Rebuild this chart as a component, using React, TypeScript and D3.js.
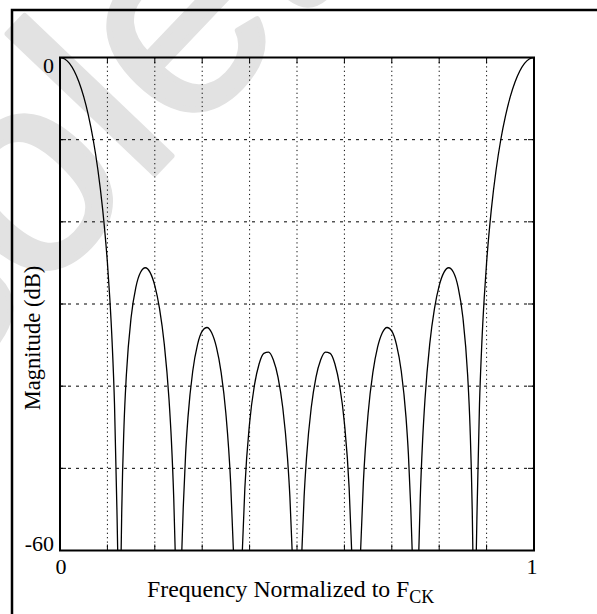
import React from 'react';
import * as d3 from 'd3';

// Normalized frequency (fraction of F_CK) and magnitude (dB)
const freqs = [
  0, 0.01, 0.02, 0.03, 0.04, 0.05, 0.06, 0.07, 0.08, 0.09, 0.1, 0.105, 0.11, 0.115, 0.12, 0.1217,
  0.125,
  0.129, 0.13, 0.135, 0.14, 0.15, 0.16, 0.17, 0.18, 0.19, 0.2, 0.21, 0.22, 0.23, 0.235, 0.24, 0.243,
  0.25,
  0.257, 0.26, 0.265, 0.27, 0.28, 0.29, 0.3, 0.31, 0.32, 0.33, 0.34, 0.35, 0.36, 0.3658,
  0.375,
  0.3847, 0.39, 0.4, 0.41, 0.42, 0.43, 0.44, 0.45, 0.46, 0.47, 0.48, 0.485, 0.4897,
  0.5,
  0.5103, 0.515, 0.52, 0.53, 0.54, 0.55, 0.56, 0.57, 0.58, 0.59, 0.6, 0.61, 0.6153,
  0.625,
  0.6342, 0.64, 0.65, 0.66, 0.67, 0.68, 0.69, 0.7, 0.71, 0.72, 0.73, 0.735, 0.74, 0.743,
  0.75,
  0.757, 0.76, 0.765, 0.77, 0.78, 0.79, 0.8, 0.81, 0.82, 0.83, 0.84, 0.85, 0.86, 0.865, 0.87, 0.871,
  0.875,
  0.8783, 0.88, 0.885, 0.89, 0.895, 0.9, 0.91, 0.92, 0.93, 0.94, 0.95, 0.96, 0.97, 0.98, 0.99, 1,
];

const magnitudeDb = [
  0, -0.18, -0.72, -1.65, -2.99, -4.77, -7.07, -9.98, -13.69, -18.48, -24.95, -29.23, -34.68, -42.23, -54.8, -60,
  -80,
  -60, -56.16, -44.87, -38.65, -31.64, -27.97, -26.13, -25.59, -26.15, -27.76, -30.56, -34.89, -41.62, -46.6, -53.71, -60,
  -80,
  -60, -54.8, -48.25, -43.8, -38.18, -34.97, -33.31, -32.86, -33.5, -35.26, -38.36, -43.35, -51.74, -60,
  -80,
  -60, -52.4, -44.48, -39.95, -37.3, -36.01, -35.85, -36.78, -38.92, -42.63, -48.77, -53.47, -60,
  -80,
  -60, -53.47, -48.77, -42.63, -38.92, -36.78, -35.85, -36.01, -37.3, -39.95, -44.48, -52.4, -60,
  -80,
  -60, -51.74, -43.35, -38.36, -35.26, -33.5, -32.86, -33.31, -34.97, -38.18, -43.8, -48.25, -54.8, -60,
  -80,
  -60, -53.71, -46.6, -41.62, -34.89, -30.56, -27.76, -26.15, -25.59, -26.13, -27.97, -31.64, -38.65, -44.87, -56.16, -60,
  -80,
  -60, -54.8, -42.23, -34.68, -29.23, -24.95, -18.48, -13.69, -9.98, -7.07, -4.77, -2.99, -1.65, -0.72, -0.18, 0,
];

const xTickValues = [0, 1];
const xTickLabels = ['0', '1'];
const yTickValues = [0, -60];
const yTickLabels = ['0', '-60'];

const W = 597;
const H = 614;
const plot = { left: 60, top: 57.5, right: 534, bottom: 550.5 };
const serif = '"Liberation Serif", "Times New Roman", Times, serif';

export default function App() {
  const x = d3.scaleLinear().domain([0, 1]).range([plot.left, plot.right]);
  const y = d3.scaleLinear().domain([-60, 0]).range([plot.bottom, plot.top]);

  const points: [number, number][] = freqs.map((f, i) => [f, magnitudeDb[i]]);
  const line = d3
    .line<[number, number]>()
    .x((d) => x(d[0]))
    .y((d) => y(d[1]))
    .curve(d3.curveMonotoneX);

  const xGrid = x.ticks(10).filter((v) => v > 0 && v < 1);
  const yGrid = y.ticks(6).filter((v) => v > -60 && v < 0);
  const tick = 6;

  return (
    <svg
      width={W}
      height={H}
      style={{ position: 'absolute', left: 0, top: 0, background: '#fff' }}
    >
      <defs>
        <clipPath id="plotClip">
          <rect
            x={plot.left}
            y={plot.top}
            width={plot.right - plot.left}
            height={plot.bottom - plot.top}
          />
        </clipPath>
      </defs>

      {/* watermark */}
      <text
        transform="translate(-320,672) rotate(-46.4)"
        fontFamily='"Liberation Sans", Arial, sans-serif'
        fontSize={280}
        fill="#e2e2e2"
        stroke="#e2e2e2"
        strokeWidth={6}
        strokeLinejoin="round"
      >
        Obsolete
      </text>

      {/* outer border */}
      <rect x={12} y={10} width={700} height={700} fill="none" stroke="#000" strokeWidth={2.5} />

      {/* vertical grid */}
      {xGrid.map((v) => (
        <g key={'xg' + v}>
          <line
            x1={x(v)}
            x2={x(v)}
            y1={plot.top}
            y2={plot.bottom}
            stroke="#000"
            strokeWidth={1}
            strokeDasharray="1.2,3.2"
          />
          <line x1={x(v)} x2={x(v)} y1={plot.top} y2={plot.top + tick} stroke="#000" strokeWidth={1} />
          <line x1={x(v)} x2={x(v)} y1={plot.bottom} y2={plot.bottom - tick} stroke="#000" strokeWidth={1} />
        </g>
      ))}

      {/* horizontal grid */}
      {yGrid.map((v) => (
        <g key={'yg' + v}>
          <line
            x1={plot.left}
            x2={plot.right}
            y1={y(v)}
            y2={y(v)}
            stroke="#000"
            strokeWidth={1}
            strokeDasharray="3,5"
          />
          <line x1={plot.left} x2={plot.left + tick} y1={y(v)} y2={y(v)} stroke="#000" strokeWidth={1} />
          <line x1={plot.right} x2={plot.right - tick} y1={y(v)} y2={y(v)} stroke="#000" strokeWidth={1} />
        </g>
      ))}

      {/* response curve */}
      <path
        d={line(points) || ''}
        fill="none"
        stroke="#000"
        strokeWidth={1.3}
        clipPath="url(#plotClip)"
      />

      {/* plot frame */}
      <rect
        x={plot.left}
        y={plot.top}
        width={plot.right - plot.left}
        height={plot.bottom - plot.top}
        fill="none"
        stroke="#000"
        strokeWidth={2}
      />

      {/* y tick labels */}
      {yTickValues.map((v, i) => (
        <text
          key={'yt' + v}
          x={plot.left - 6}
          y={v === 0 ? y(v) + 15 : y(v)}
          textAnchor="end"
          fontFamily={serif}
          fontSize={22}
        >
          {yTickLabels[i]}
        </text>
      ))}

      {/* x tick labels */}
      {xTickValues.map((v, i) => (
        <text
          key={'xt' + v}
          x={x(v) + (v === 1 ? -2 : 1)}
          y={plot.bottom + 23}
          textAnchor="middle"
          fontFamily={serif}
          fontSize={22}
        >
          {xTickLabels[i]}
        </text>
      ))}

      {/* axis titles */}
      <text
        transform={`translate(40,338) rotate(-90)`}
        textAnchor="middle"
        fontFamily={serif}
        fontSize={22.5}
      >
        Magnitude (dB)
      </text>
      <text x={147} y={597} fontFamily={serif} fontSize={23.8}>
        Frequency Normalized to F
        <tspan fontSize={18} dy={6}>
          CK
        </tspan>
      </text>
    </svg>
  );
}
